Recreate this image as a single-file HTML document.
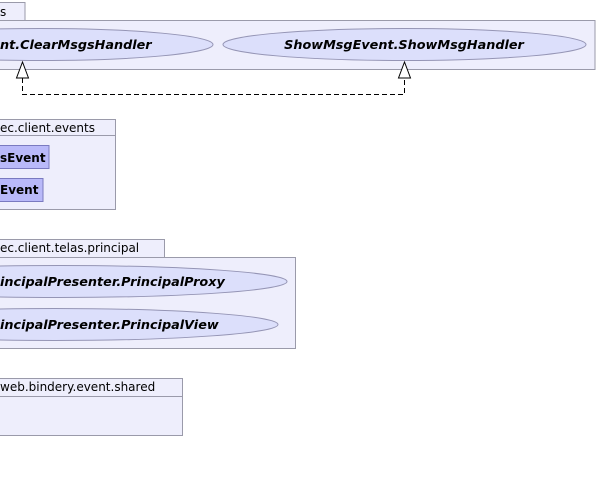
<!DOCTYPE html>
<html><head><style>html,body{margin:0;padding:0;background:#fff;width:597px;height:481px;overflow:hidden}</style></head>
<body>
<svg width="597" height="481" xmlns="http://www.w3.org/2000/svg" font-family="'DejaVu Sans','Liberation Sans',sans-serif">
<g fill="#eeeefc" stroke="#9a9aaa" stroke-width="1">
<rect x="-1" y="2.5" width="26" height="18"/>
<rect x="-1" y="20.5" width="596" height="49"/>
<rect x="-1" y="119.5" width="116.5" height="16"/>
<rect x="-1" y="135.5" width="116.5" height="74"/>
<rect x="-1" y="239.5" width="165.5" height="18"/>
<rect x="-1" y="257.5" width="296.5" height="91"/>
<rect x="-1" y="378.5" width="183.5" height="18"/>
<rect x="-1" y="396.5" width="183.5" height="39"/>
</g>
<g font-size="12" fill="#000">
<text x="0" y="16">s</text>
<text x="0" y="132">ec.client.events</text>
<text x="0" y="252">ec.client.telas.principal</text>
<text x="0" y="391">web.bindery.event.shared</text>
</g>
<g fill="#dcdffb" stroke="#9595b5">
<ellipse cx="40" cy="44.5" rx="173" ry="16"/>
<ellipse cx="404.5" cy="44.5" rx="181.5" ry="16"/>
<ellipse cx="60" cy="281.5" rx="227" ry="16"/>
<ellipse cx="55" cy="324.5" rx="223" ry="16"/>
</g>
<g fill="#b9b9f9" stroke="#7a7ac0">
<rect x="-1" y="145.5" width="50" height="23"/>
<rect x="-1" y="178.5" width="44" height="23"/>
</g>
<g font-size="12.8" font-weight="bold" font-style="italic">
<text x="0" y="49">nt.ClearMsgsHandler</text>
<text x="404" y="49" text-anchor="middle">ShowMsgEvent.ShowMsgHandler</text>
<text x="0" y="286">incipalPresenter.PrincipalProxy</text>
<text x="0" y="329">incipalPresenter.PrincipalView</text>
</g>
<g font-size="12" font-weight="bold">
<text x="0" y="162">sEvent</text>
<text x="0" y="194">Event</text>
</g>
<g fill="none" stroke="#000" stroke-dasharray="5,3">
<path d="M22.5 78 V94.5 H404.5 V78"/>
</g>
<g fill="#fff" stroke="#000">
<path d="M22.5 62 L16.5 78 H28.5 Z"/>
<path d="M404.5 62 L398.5 78 H410.5 Z"/>
</g>
</svg>
</body></html>
